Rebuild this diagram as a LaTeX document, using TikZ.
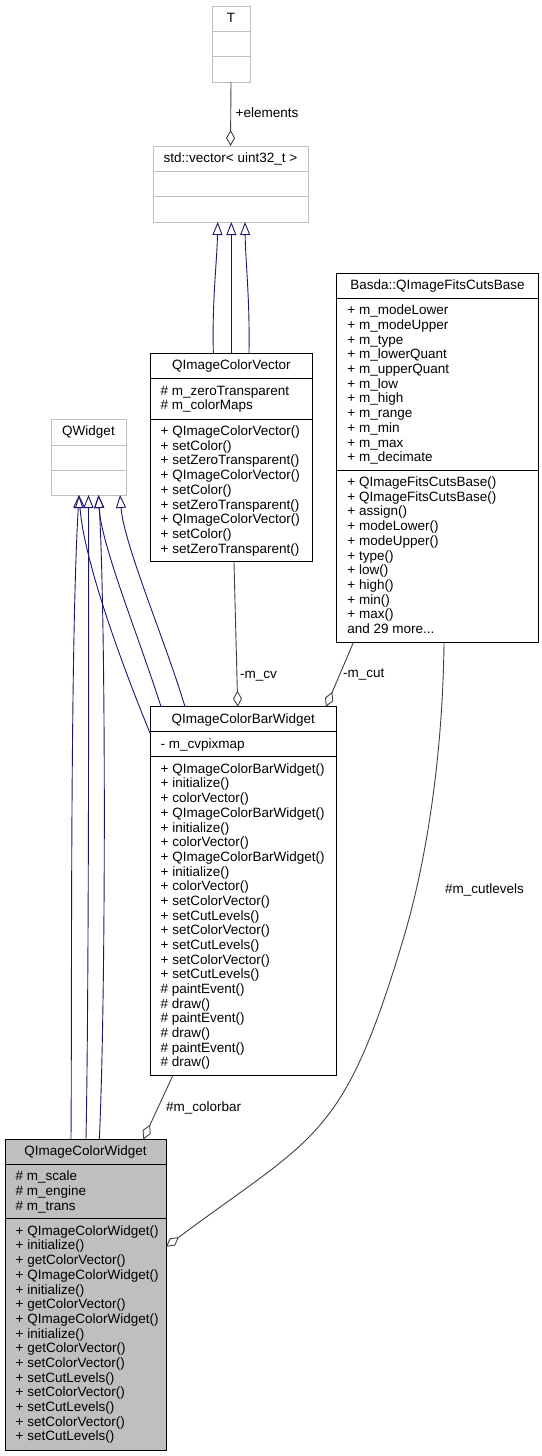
\documentclass[tikz,border=0pt]{standalone}
\usepackage{fontspec}
\setmainfont{Liberation Sans}
\usetikzlibrary{arrows.meta}
\definecolor{grey25}{HTML}{404040}
\definecolor{grey75}{HTML}{BFBFBF}
\definecolor{navyblue}{HTML}{191970}
\newcommand\umlfont{\fontsize{13.5}{14.68}\selectfont}
\newcommand\fs{\rule{0pt}{11pt}}
\tikzset{
  cls/.style={rectangle, draw=black, line width=1pt, inner sep=0pt, outer sep=0pt, anchor=north west},
  gcls/.style={cls, draw=grey75},
  cline/.style={draw=black, line width=1pt},
  gline/.style={draw=grey75, line width=1pt},
  ttl/.style={anchor=base, inner sep=0pt, font=\umlfont},
  mem/.style={anchor=north west, inner sep=0pt, align=left, font=\umlfont},
  lbl/.style={anchor=base west, inner sep=0pt, font=\umlfont},
  agg/.style={draw=grey25, line width=0.9pt, -{Diamond[open, length=16pt, width=9pt, line width=0.9pt]}},
  inh/.style={draw=navyblue, line width=0.9pt, -{Triangle[open, length=13pt, width=10pt, line width=0.9pt]}},
}
\begin{document}
\begin{tikzpicture}[x=1pt, y=-1pt]
\useasboundingbox (0,0) rectangle (541,1456);

% ---------- T ----------
\node[gcls, minimum width=38pt, minimum height=76pt] (T) at (212,6) {};
\draw[gline] ([yshift=-25.7pt]T.north west) -- ([yshift=-25.7pt]T.north east);
\draw[gline] ([yshift=-50.7pt]T.north west) -- ([yshift=-50.7pt]T.north east);
\node[ttl] (Tt) at ([yshift=-16.4pt]T.north) {T};

% ---------- std::vector ----------
\node[gcls, minimum width=155pt, minimum height=76pt] (vec) at (153,146) {};
\draw[gline] ([yshift=-25.7pt]vec.north west) -- ([yshift=-25.7pt]vec.north east);
\draw[gline] ([yshift=-50.7pt]vec.north west) -- ([yshift=-50.7pt]vec.north east);
\node[ttl] (vect) at ([yshift=-16.4pt]vec.north) {std::vector< uint32\_t >};

% ---------- QWidget ----------
\node[gcls, minimum width=75pt, minimum height=75.7pt] (QW) at (51,419.3) {};
\draw[gline] ([yshift=-25.7pt]QW.north west) -- ([yshift=-25.7pt]QW.north east);
\draw[gline] ([yshift=-50.7pt]QW.north west) -- ([yshift=-50.7pt]QW.north east);
\node[ttl] (QWt) at ([yshift=-16.4pt]QW.north) {QWidget};

% ---------- QImageColorVector ----------
\node[cls, minimum width=162.7pt, minimum height=207.7pt] (cv) at (150,353.3) {};
\draw[cline] ([yshift=-25.4pt]cv.north west) -- ([yshift=-25.4pt]cv.north east);
\draw[cline] ([yshift=-65.7pt]cv.north west) -- ([yshift=-65.7pt]cv.north east);
\node[ttl] (cvt) at ([yshift=-16.4pt]cv.north) {QImageColorVector};
\node[mem] (cva) at ([xshift=10.5pt, yshift=-30.8pt]cv.north west)
  {\fs\# m\_zeroTransparent\\\# m\_colorMaps};
\node[mem] (cvm) at ([xshift=10.5pt, yshift=-71.1pt]cv.north west)
  {\fs+ QImageColorVector()\\+ setColor()\\+ setZeroTransparent()\\+ QImageColorVector()\\+ setColor()\\+ setZeroTransparent()\\+ QImageColorVector()\\+ setColor()\\+ setZeroTransparent()};

% ---------- Basda::QImageFitsCutsBase ----------
\node[cls, minimum width=201.6pt, minimum height=369.4pt] (B) at (336.7,273.3) {};
\draw[cline] ([yshift=-25pt]B.north west) -- ([yshift=-25pt]B.north east);
\draw[cline] ([yshift=-196.7pt]B.north west) -- ([yshift=-196.7pt]B.north east);
\node[ttl] (Bt) at ([yshift=-16.4pt]B.north) {Basda::QImageFitsCutsBase};
\node[mem] (Ba) at ([xshift=10.5pt, yshift=-30.4pt]B.north west)
  {\fs+ m\_modeLower\\+ m\_modeUpper\\+ m\_type\\+ m\_lowerQuant\\+ m\_upperQuant\\+ m\_low\\+ m\_high\\+ m\_range\\+ m\_min\\+ m\_max\\+ m\_decimate};
\node[mem] (Bm) at ([xshift=10.5pt, yshift=-202.1pt]B.north west)
  {\fs+ QImageFitsCutsBase()\\+ QImageFitsCutsBase()\\+ assign()\\+ modeLower()\\+ modeUpper()\\+ type()\\+ low()\\+ high()\\+ min()\\+ max()\\and 29 more...};

% ---------- QImageColorBarWidget ----------
\node[cls, minimum width=186.7pt, minimum height=369pt] (BW) at (150,706.7) {};
\draw[cline] ([yshift=-25pt]BW.north west) -- ([yshift=-25pt]BW.north east);
\draw[cline] ([yshift=-50pt]BW.north west) -- ([yshift=-50pt]BW.north east);
\node[ttl] (BWt) at ([yshift=-16.4pt]BW.north) {QImageColorBarWidget};
\node[mem] (BWa) at ([xshift=10.5pt, yshift=-30.4pt]BW.north west)
  {\fs- m\_cvpixmap};
\node[mem] (BWm) at ([xshift=10.5pt, yshift=-55.4pt]BW.north west)
  {\fs+ QImageColorBarWidget()\\+ initialize()\\+ colorVector()\\+ QImageColorBarWidget()\\+ initialize()\\+ colorVector()\\+ QImageColorBarWidget()\\+ initialize()\\+ colorVector()\\+ setColorVector()\\+ setCutLevels()\\+ setColorVector()\\+ setCutLevels()\\+ setColorVector()\\+ setCutLevels()\\\# paintEvent()\\\# draw()\\\# paintEvent()\\\# draw()\\\# paintEvent()\\\# draw()};

% ---------- QImageColorWidget ----------
\node[cls, fill=grey75, minimum width=161pt, minimum height=310.7pt] (QCW) at (5,1139.3) {};
\draw[cline] ([yshift=-25pt]QCW.north west) -- ([yshift=-25pt]QCW.north east);
\draw[cline] ([yshift=-79.4pt]QCW.north west) -- ([yshift=-79.4pt]QCW.north east);
\node[ttl] (QCWt) at ([yshift=-16.4pt]QCW.north) {QImageColorWidget};
\node[mem] (QCWa) at ([xshift=10.5pt, yshift=-30.4pt]QCW.north west)
  {\fs\# m\_scale\\\# m\_engine\\\# m\_trans};
\node[mem] (QCWm) at ([xshift=10.5pt, yshift=-84.8pt]QCW.north west)
  {\fs+ QImageColorWidget()\\+ initialize()\\+ getColorVector()\\+ QImageColorWidget()\\+ initialize()\\+ getColorVector()\\+ QImageColorWidget()\\+ initialize()\\+ getColorVector()\\+ setColorVector()\\+ setCutLevels()\\+ setColorVector()\\+ setCutLevels()\\+ setColorVector()\\+ setCutLevels()};

% ---------- inheritance: QImageColorVector -> std::vector ----------
\draw[inh] ([xshift=-18pt]cv.north) .. controls (212,300) and (217,262) .. ([xshift=-12.8pt]vec.south);
\draw[inh] (cv.north) -- (cv.north |- vec.south);
\draw[inh] ([xshift=17.6pt]cv.north) .. controls (250,300) and (245.5,262) .. ([xshift=14.5pt]vec.south);

% ---------- inheritance: -> QWidget ----------
\draw[inh] ([xshift=-14.5pt]QCW.north) .. controls (72,1000) and (70,650) .. ([xshift=-9.5pt]QW.south);
\draw[inh] ([xshift=0.5pt]QCW.north) .. controls (88.8,1000) and (88.8,650) .. (QW.south);
\draw[inh] ([xshift=13.8pt]QCW.north) .. controls (106,1000) and (106,620) .. ([xshift=10pt]QW.south);
\draw[inh] ([yshift=-26.3pt]BW.north west) .. controls (120,660) and (84,560) .. ([xshift=-9.5pt]QW.south);
\draw[inh] ([xshift=11pt]BW.north west) .. controls (140,640) and (101,545) .. ([xshift=10pt]QW.south);
\draw[inh] ([xshift=35pt]BW.north west) .. controls (165,640) and (124,545) .. ([xshift=31.5pt]QW.south);

% ---------- aggregations ----------
\draw[agg] (T.south) -- (vec.north);
\node[lbl] (lelem) at (235.5,117) {+elements};

\draw[agg] ([xshift=2.6pt]cv.south) -- ([xshift=-5.6pt]BW.north);
\node[lbl] (lcv) at (240,678.5) {-m\_cv};

\draw[agg] ([xshift=-84.2pt]B.south) -- ([xshift=-10.7pt]BW.north east);
\node[lbl] (lcut) at (343,677.5) {-m\_cut};

\draw[agg] ([xshift=-70.6pt]BW.south) -- ([xshift=57.8pt]QCW.north);
\node[lbl] (lbar) at (166,1111) {\#m\_colorbar};

\draw[agg] ([xshift=6.5pt]B.south) .. controls (443,740) and (430,850) .. (403,940)
  .. controls (343,1140) and (316,1135) .. ([yshift=-107.4pt]QCW.north east);
\node[lbl] (llev) at (445,893.8) {\#m\_cutlevels};
\end{tikzpicture}
\end{document}
